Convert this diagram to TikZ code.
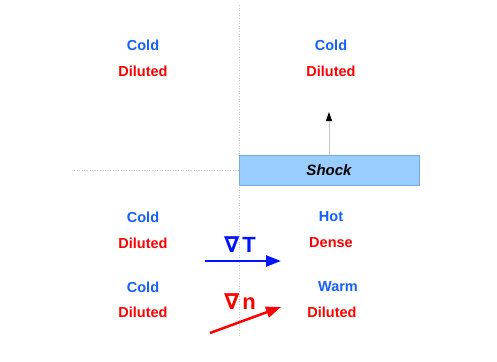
\documentclass[tikz,border=0pt]{standalone}
\usepackage{fontspec}
\setmainfont{Liberation Sans}
\newfontfamily\nablafont{DejaVu Sans}
\usetikzlibrary{arrows.meta, positioning, calc}
\definecolor{coldblue}{RGB}{20, 95, 255}
\definecolor{gradblue}{RGB}{0, 20, 255}
\definecolor{hotred}{RGB}{255, 0, 0}
\definecolor{shockfill}{RGB}{153, 204, 255}
\definecolor{shockdraw}{RGB}{120, 170, 225}
\definecolor{guidegray}{RGB}{200, 200, 200}

\begin{document}
\begin{tikzpicture}[x=1pt, y=-1pt,
        temp/.style={
            text=coldblue,
            font=\fontsize{14.5}{16}\selectfont\bfseries,
            inner sep=0pt
        },
        dens/.style={
            text=hotred,
            font=\fontsize{14.5}{16}\selectfont\bfseries,
            inner sep=0pt
        },
        grad/.style={
            font=\fontsize{22}{24}\selectfont\bfseries,
            inner sep=0pt
        },
        gradarrow/.style={
            line width=2.5pt,
            -{Triangle[length=15pt, width=11pt]}
        },
        guide/.style={
            draw=guidegray,
            dotted,
            line width=0.6pt
        },
        shockbox/.style={
            rectangle,
            fill=shockfill,
            draw=shockdraw,
            minimum width=180pt,
            minimum height=30pt,
            font=\fontsize{15}{17}\selectfont\bfseries\itshape
        }
    ]
        \useasboundingbox (0,0) rectangle (497,361);

        % guide lines
        \coordinate (vtop) at (239,5);
        \coordinate (vbot) at (239,337);
        \coordinate (hleft) at (74,170);
        \draw[guide] (vtop) -- (vbot);
        \draw[guide] (hleft) -- (239,170);

        % shock front and its motion
        \node[shockbox] (shock) at (329,170) {Shock};
        \coordinate (shockup) at (329,112);
        \draw[draw=guidegray, line width=0.8pt, -{Triangle[length=9pt, width=6pt, color=black]}] (shock.north) -- (shockup);

        % upstream, upper half
        \node[temp] (coldA) at (143,45) {Cold};
        \node[dens] (dilA) at (143,71) {Diluted};
        \node[temp] (coldB) at (331,45) {Cold};
        \node[dens] (dilB) at (331,71) {Diluted};

        % lower half, left
        \node[temp] (coldC) at (143,217) {Cold};
        \node[dens] (dilC) at (143,243) {Diluted};
        \node[temp] (coldD) at (143,287) {Cold};
        \node[dens] (dilD) at (143,312) {Diluted};

        % lower half, right
        \node[temp] (hot) at (331,217) {Hot};
        \node[dens] (dense) at (331,243) {Dense};
        \node[temp] (warm) at (338,287) {Warm};
        \node[dens] (dilE) at (332,312) {Diluted};

        % gradients
        \node[grad, text=gradblue] (gradT) at (240,245) {{\nablafont ∇}\hspace{3pt}T};
        \coordinate (tfrom) at (205,261);
        \coordinate (tto) at (281,261);
        \draw[gradblue, gradarrow] (tfrom) -- (tto);

        \node[grad, text=hotred] (gradN) at (240,302) {{\nablafont ∇}\hspace{3pt}n};
        \coordinate (nfrom) at (210,333);
        \coordinate (nto) at (281,307);
        \draw[hotred, gradarrow] (nfrom) -- (nto);
    \end{tikzpicture}
\end{document}
